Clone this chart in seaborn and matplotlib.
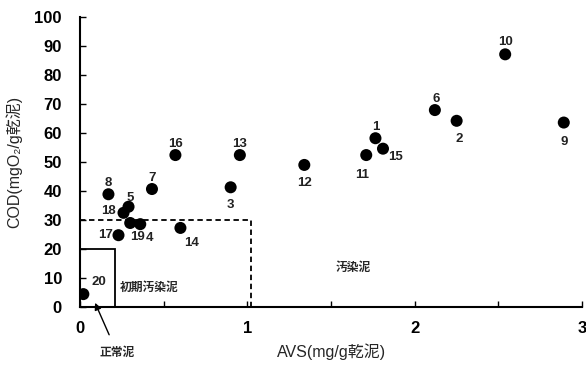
import matplotlib
matplotlib.use("Agg")
import matplotlib.pyplot as plt
import seaborn as sns
import pandas as pd
from matplotlib.patches import Rectangle

sns.set_theme(style="white")
plt.rcParams['font.family'] = ['Liberation Sans', 'Noto Sans CJK JP', 'DejaVu Sans']

# data
sample_ids = ['1','2','3','4','5','6','7','8','9','10','11','12','13','14','15','16','17','18','19','20']
avs = [1.765, 2.25, 0.90, 0.36, 0.29, 2.12, 0.43, 0.17, 2.89, 2.54,
       1.71, 1.34, 0.955, 0.60, 1.81, 0.57, 0.23, 0.26, 0.30, 0.02]
cod = [58.2, 64.2, 41.3, 28.6, 34.6, 67.9, 40.7, 38.9, 63.6, 87.1,
       52.4, 49.0, 52.4, 27.3, 54.6, 52.4, 24.8, 32.5, 29.0, 4.5]
x_ticks = [0, 1, 2, 3]
y_ticks = [0, 10, 20, 30, 40, 50, 60, 70, 80, 90, 100]
normal_box = (0.21, 20)
initial_box = (1.02, 30)

# label offsets (points)
offsets = {
    '1': (0, 8), '2': (2, -13), '3': (0, -13), '4': (7, -10), '5': (1, 6),
    '6': (1, 8), '7': (0, 8), '8': (0, 8), '9': (0, -14), '10': (0, 9),
    '11': (-3, -14), '12': (0, -13), '13': (0, 8), '14': (8, -11), '15': (9, -6),
    '16': (0, 8), '17': (-9, 0), '18': (-11, 1), '19': (5, -10), '20': (11, 9),
}

df = pd.DataFrame({'id': sample_ids, 'AVS': avs, 'COD': cod})

fig = plt.figure(figsize=(5.86, 3.67), dpi=100)
ax = fig.add_axes([0.1365, 0.163, 0.857, 0.791])

sns.scatterplot(data=df, x='AVS', y='COD', ax=ax, color='black', s=75,
                edgecolor='none', zorder=3, legend=False)

for i, row in df.iterrows():
    dx, dy = offsets[row['id']]
    ax.annotate(row['id'], (row['AVS'], row['COD']), xytext=(dx, dy),
                textcoords='offset points', ha='center', va='center',
                fontsize=9.5, fontweight='bold', color='#222222')

ax.add_patch(Rectangle((0, 0), normal_box[0], normal_box[1], fill=False,
                       edgecolor='black', lw=1.3, zorder=2, clip_on=False))
ax.plot([0, initial_box[0], initial_box[0]], [initial_box[1], initial_box[1], 0],
        color='black', lw=1.3, ls=(0, (3, 2)), zorder=2)

ax.text(0.235, 6.7, '初期汚染泥', fontsize=8.5, fontweight='bold',
        va='center', ha='left', family=['Noto Sans CJK JP'])
ax.text(1.63, 13.8, '汚染泥', fontsize=8.5, fontweight='bold',
        va='center', ha='center', family=['Noto Sans CJK JP'])
ax.annotate('正常泥', xy=(0.09, 1.5), xytext=(0.22, -15.5),
            fontsize=8.5, fontweight='bold', ha='center', va='center',
            family=['Noto Sans CJK JP'], annotation_clip=False,
            arrowprops=dict(arrowstyle='-|>', color='black', lw=1.0,
                            shrinkA=6, shrinkB=0, mutation_scale=10))

ax.set_xlim(0, 3)
ax.set_ylim(0, 100)
ax.set_xticks([0, 0.5, 1, 1.5, 2, 2.5, 3])
ax.set_xticklabels(['0', '', '1', '', '2', '', '3'])
ax.set_yticks(y_ticks)
ax.set_yticklabels([str(v) for v in y_ticks])
ax.tick_params(direction='in', length=4, width=1, labelsize=12,
               bottom=True, left=True, colors='black')
ax.tick_params(axis='y', pad=13)
ax.tick_params(axis='x', pad=10)
for lab in ax.get_xticklabels() + ax.get_yticklabels():
    lab.set_fontweight('bold')

for side in ['top', 'right']:
    ax.spines[side].set_visible(False)
for side in ['left', 'bottom']:
    ax.spines[side].set_color('black')
    ax.spines[side].set_linewidth(1.5)

ax.set_xlabel('AVS(mg/g乾泥)', fontsize=11.5, labelpad=5)
ax.set_ylabel('COD(mgO₂/g乾泥)', fontsize=11.5, labelpad=9)

fig.savefig('out.png', dpi=100)
